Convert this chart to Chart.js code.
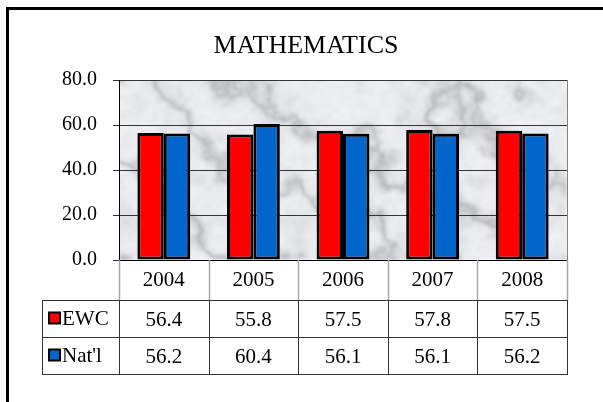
<!DOCTYPE html>
<html>
<head>
<meta charset="utf-8">
<script src="https://cdn.jsdelivr.net/npm/chart.js@4.4.0/dist/chart.umd.min.js"></script>
<style>
  html, body { margin: 0; padding: 0; background: #fff; }
  #wrap { width: 603px; height: 402px; }
</style>
</head>
<body>
<div id="wrap"><canvas id="chart" width="603" height="402"></canvas></div>
<script>
// --- datos del grafico ---
const titulo = 'MATHEMATICS';
const anios = ['2004', '2005', '2006', '2007', '2008'];
const serieEWC = [56.4, 55.8, 57.5, 57.8, 57.5];
const serieNatl = [56.2, 60.4, 56.1, 56.1, 56.2];
const nombresSeries = ['EWC', "Nat'l"];
const coloresSeries = ['#ff0000', '#0066cc'];
const ejeYMin = 0;
const ejeYMax = 80;
const ejeYPaso = 20;

const FUENTE = "'Liberation Serif', 'Times New Roman', serif";

// ruido simple (determinista) para la textura de marmol del fondo
function hash(i, j) {
    const s = Math.sin(i * 127.1 + j * 311.7) * 43758.5453;
    return s - Math.floor(s);
}
function ruido(x, y) {
    const xi = Math.floor(x), yi = Math.floor(y);
    const xf = x - xi, yf = y - yi;
    const u = xf * xf * (3 - 2 * xf), v = yf * yf * (3 - 2 * yf);
    const a = hash(xi, yi), b = hash(xi + 1, yi), c = hash(xi, yi + 1), d = hash(xi + 1, yi + 1);
    return a + (b - a) * u + (c - a) * v + (a - b - c + d) * u * v;
}
function turbulencia(x, y) {
    let t = 0, f = 1, amp = 1;
    for (let k = 0; k < 5; k++) { t += amp * ruido(x * f, y * f); f *= 2; amp *= 0.5; }
    return t / 1.9375;
}

let texturaCache = null;
function texturaMarmol(w, h) {
    if (texturaCache && texturaCache.width === w && texturaCache.height === h) return texturaCache;
    const c = document.createElement('canvas');
    c.width = w; c.height = h;
    const g = c.getContext('2d');
    const img = g.createImageData(w, h);
    for (let y = 0; y < h; y++) {
        for (let x = 0; x < w; x++) {
            const t = turbulencia(x / 50, y / 50);
            const m = Math.sin(x * 0.02 - y * 0.03 + 6 * t);
            const vena = Math.pow(1 - Math.abs(m), 2.5);
            const manchas = turbulencia(x / 20 + 50, y / 20 + 50);
            const fino = turbulencia(x / 6 + 90, y / 6 + 90);
            let val = 238 - 45 * vena - 40 * Math.max(0, manchas - 0.5) - 14 * (fino - 0.5);
            val = Math.max(160, Math.min(246, val));
            const i = (y * w + x) * 4;
            img.data[i] = val - 3;
            img.data[i + 1] = val - 1;
            img.data[i + 2] = val + 2;
            img.data[i + 3] = 255;
        }
    }
    g.putImageData(img, 0, 0);
    texturaCache = c;
    return c;
}

const pluginFondo = {
    id: 'fondoMarmol',
    beforeDraw(chart) {
        const { ctx, chartArea: a } = chart;
        ctx.save();
        ctx.fillStyle = '#ffffff';
        ctx.fillRect(0, 0, chart.width, chart.height);
        const w = Math.round(a.right - a.left), h = Math.round(a.bottom - a.top);
        ctx.beginPath();
        ctx.rect(a.left, a.top, w, h);
        ctx.clip();
        ctx.filter = 'blur(1.2px)';
        ctx.drawImage(texturaMarmol(w, h), a.left, a.top);
        ctx.restore();
    }
};

const pluginTabla = {
    id: 'tablaDatos',
    afterDraw(chart) {
        const { ctx, chartArea: a } = chart;
        const xScale = chart.scales.x;
        const anchoCat = (a.right - a.left) / anios.length;
        const filaTop = 300, filaAlto = 37;
        const izq = 42;

        ctx.save();
        // marco exterior
        ctx.strokeStyle = '#000';
        ctx.lineWidth = 3;
        ctx.strokeRect(7.5, 8.5, 620, 420);

        // titulo
        ctx.fillStyle = '#000';
        ctx.font = '26px ' + FUENTE;
        ctx.textAlign = 'center';
        ctx.textBaseline = 'middle';
        ctx.fillText(titulo, 306, 46);

        // borde derecho del area de trazado
        ctx.strokeStyle = '#808080';
        ctx.lineWidth = 1;
        ctx.beginPath();
        ctx.moveTo(Math.round(a.right) + 0.5, a.top);
        ctx.lineTo(Math.round(a.right) + 0.5, a.bottom);
        ctx.stroke();

        // lineas verticales de la fila de anios (gris claro)
        ctx.strokeStyle = '#a8a8a8';
        ctx.lineWidth = 1.5;
        ctx.beginPath();
        for (let i = 0; i <= anios.length; i++) {
            const x = Math.round(a.left + i * anchoCat) + 0.5;
            ctx.moveTo(x, a.bottom);
            ctx.lineTo(x, filaTop);
        }
        ctx.stroke();

        // rejilla de la tabla
        ctx.strokeStyle = '#333';
        ctx.lineWidth = 1;
        ctx.beginPath();
        for (let r = 0; r <= 2; r++) {
            const y = filaTop + r * filaAlto + 0.5;
            ctx.moveTo(izq, y);
            ctx.lineTo(a.right + 1, y);
        }
        const xs = [izq + 0.5];
        for (let i = 0; i <= anios.length; i++) xs.push(Math.round(a.left + i * anchoCat) + 0.5);
        xs.forEach(x => {
            ctx.moveTo(x, filaTop);
            ctx.lineTo(x, filaTop + 2 * filaAlto + 1);
        });
        ctx.stroke();

        // leyenda + valores
        const series = [serieEWC, serieNatl];
        ctx.font = '21px ' + FUENTE;
        series.forEach((serie, r) => {
            const yc = filaTop + r * filaAlto + filaAlto / 2 + 1;
            // cuadrito de color
            ctx.fillStyle = coloresSeries[r];
            ctx.fillRect(49, yc - 7, 11, 11);
            ctx.strokeStyle = '#000';
            ctx.lineWidth = 2;
            ctx.strokeRect(49, yc - 7, 11, 11);
            ctx.fillStyle = '#000';
            ctx.textAlign = 'left';
            ctx.fillText(nombresSeries[r], 62, yc);
            ctx.textAlign = 'center';
            serie.forEach((v, i) => {
                ctx.fillText(v.toFixed(1), xScale.getPixelForValue(i), yc + 1);
            });
        });
        ctx.restore();
    }
};

new Chart(document.getElementById('chart'), {
    type: 'bar',
    data: {
        labels: anios,
        datasets: [
            {
                label: nombresSeries[0],
                data: serieEWC,
                backgroundColor: coloresSeries[0],
                borderColor: '#000',
                borderWidth: 3,
                borderSkipped: false,
                barPercentage: 1.0,
                categoryPercentage: 0.59
            },
            {
                label: nombresSeries[1],
                data: serieNatl,
                backgroundColor: coloresSeries[1],
                borderColor: '#000',
                borderWidth: 3,
                borderSkipped: false,
                barPercentage: 1.0,
                categoryPercentage: 0.59
            }
        ]
    },
    options: {
        responsive: false,
        animation: false,
        layout: { padding: { top: 80, right: 36, left: 0, bottom: 0 } },
        plugins: {
            legend: { display: false },
            title: { display: false },
            tooltip: { enabled: false }
        },
        scales: {
            y: {
                min: ejeYMin, max: ejeYMax,
                ticks: {
                    stepSize: ejeYPaso,
                    callback: v => Number(v).toFixed(1),
                    color: '#000',
                    font: { family: FUENTE, size: 20 },
                    padding: 16
                },
                grid: { color: '#333', lineWidth: 1, tickLength: 6 },
                border: { display: true, color: '#000', width: 1 },
                afterFit: s => { s.width = 119; }
            },
            x: {
                ticks: {
                    color: '#000',
                    font: { family: FUENTE, size: 21 },
                    padding: 8,
                    maxRotation: 0
                },
                grid: { display: false, drawTicks: false },
                border: { display: true, color: '#000', width: 1 },
                afterFit: s => { s.height = 142; }
            }
        }
    },
    plugins: [pluginFondo, pluginTabla]
});
</script>
</body>
</html>
